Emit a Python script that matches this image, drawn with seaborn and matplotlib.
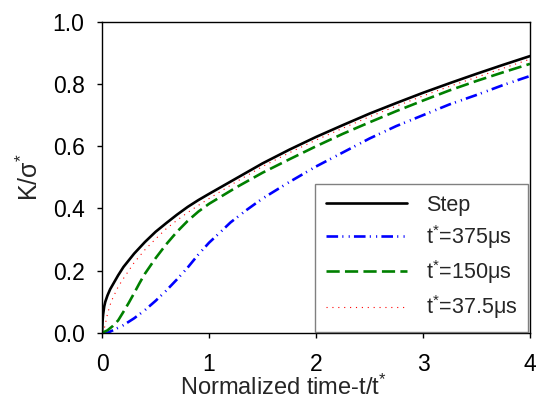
import matplotlib
matplotlib.use("Agg")
import matplotlib.pyplot as plt
import seaborn as sns
import pandas as pd

# ---- data ----
step_x = [0, 0.005, 0.01, 0.02, 0.03, 0.05, 0.075, 0.1, 0.15, 0.2, 0.3, 0.4, 0.5, 0.6, 0.7, 0.8, 0.9,
          1.0, 1.25, 1.5, 1.75, 2.0, 2.25, 2.5, 2.75, 3.0, 3.25, 3.5, 3.75, 4.0]
step_y = [0, 0.04, 0.06, 0.085, 0.10, 0.12, 0.14, 0.155, 0.185, 0.212, 0.255, 0.292, 0.325, 0.353, 0.38,
          0.405, 0.427, 0.447, 0.496, 0.545, 0.589, 0.63, 0.668, 0.705, 0.739, 0.772, 0.803, 0.833, 0.862, 0.89]

t375_x = [0, 0.05, 0.1, 0.2, 0.3, 0.4, 0.5, 0.6, 0.7, 0.8, 0.9, 1.0, 1.1, 1.2, 1.35, 1.5, 1.75,
          2.0, 2.25, 2.5, 2.75, 3.0, 3.25, 3.5, 3.75, 4.0]
t375_y = [0, 0.0, 0.008, 0.025, 0.047, 0.073, 0.103, 0.136, 0.172, 0.21, 0.252, 0.29, 0.322, 0.355,
          0.395, 0.432, 0.485, 0.535, 0.58, 0.625, 0.665, 0.70, 0.735, 0.765, 0.797, 0.826]

t150_x = [0, 0.05, 0.1, 0.15, 0.2, 0.25, 0.3, 0.35, 0.4, 0.5, 0.6, 0.7, 0.8, 0.9, 1.0, 1.25, 1.5,
          1.75, 2.0, 2.25, 2.5, 2.75, 3.0, 3.25, 3.5, 3.75, 4.0]
t150_y = [0, 0.008, 0.022, 0.04, 0.068, 0.097, 0.128, 0.16, 0.19, 0.24, 0.285, 0.325, 0.36, 0.39,
          0.415, 0.467, 0.515, 0.558, 0.60, 0.64, 0.677, 0.713, 0.747, 0.78, 0.81, 0.838, 0.865]

t37_x = [0, 0.01, 0.025, 0.05, 0.075, 0.1, 0.15, 0.2, 0.3, 0.4, 0.5, 0.6, 0.7, 0.8, 0.9, 1.0, 1.25,
         1.5, 1.75, 2.0, 2.25, 2.5, 2.75, 3.0, 3.25, 3.5, 3.75, 4.0]
t37_y = [0, 0.005, 0.02, 0.06, 0.09, 0.112, 0.148, 0.175, 0.226, 0.267, 0.302, 0.335, 0.362, 0.387,
         0.41, 0.432, 0.485, 0.535, 0.579, 0.62, 0.658, 0.695, 0.729, 0.762, 0.793, 0.822, 0.851, 0.88]

labels = ["Step", "t$^{*}$=375μs", "t$^{*}$=150μs", "t$^{*}$=37.5μs"]
x_ticks = [0, 1, 2, 3, 4]
y_ticks = [0.0, 0.2, 0.4, 0.6, 0.8, 1.0]

sns.set_style("white")
plt.rcParams["font.family"] = ["Liberation Sans", "DejaVu Sans"]
plt.rcParams["mathtext.fontset"] = "custom"
plt.rcParams["mathtext.rm"] = "Liberation Sans"
plt.rcParams["mathtext.it"] = "Liberation Sans:italic"
plt.rcParams["mathtext.bf"] = "Liberation Sans:bold"

fig = plt.figure(figsize=(5.43, 4.13), dpi=100)
ax = fig.add_axes([0.188, 0.194, 0.788, 0.753])

series = [
    (step_x, step_y, labels[0], "black", "-", 1.9),
    (t375_x, t375_y, labels[1], "#0000ff", (0, (4.4, 1.6, 0.4, 2.0, 0.4, 1.6)), 1.9),
    (t150_x, t150_y, labels[2], "#008000", (0, (5, 2)), 1.9),
    (t37_x, t37_y, labels[3], "#ff0000", (0, (1, 4.3)), 0.8),
]
for xs, ys, lab, col, ls, lw in series:
    df = pd.DataFrame({"x": xs, "y": ys})
    sns.lineplot(data=df, x="x", y="y", ax=ax, color=col, linestyle=ls,
                 linewidth=lw, label=lab, estimator=None, sort=False)

ax.set_xlim(0, 4)
ax.set_ylim(0, 1.0)
ax.set_xticks(x_ticks)
ax.set_xticklabels([str(v) for v in x_ticks])
ax.set_yticks(y_ticks)
ax.set_yticklabels([f"{v:.1f}" for v in y_ticks])
ax.tick_params(axis="both", which="major", direction="out", length=3.6, width=1,
               labelsize=16.5, bottom=True, left=True, top=False, right=False,
               colors="black")
ax.tick_params(axis="x", pad=11)
ax.tick_params(axis="y", pad=9)
for sp in ax.spines.values():
    sp.set_visible(True)
    sp.set_color("black")
    sp.set_linewidth(1.0)

ax.set_xlabel("Normalized time-t/t$^{*}$", fontsize=17)
ax.xaxis.label.set_va("baseline")
ax.xaxis.set_label_coords(0.423, -0.198)
ax.set_ylabel("K/σ$^{*}$", fontsize=18)
ax.yaxis.set_label_coords(-0.138, 0.5)

leg = ax.legend(loc="lower right", bbox_to_anchor=(0.995, 0.003), borderaxespad=0,
                fontsize=15.5, frameon=True, fancybox=False, edgecolor="#606060",
                handlelength=3.8, handletextpad=0.85, labelspacing=0.34,
                borderpad=0.5)
leg.get_frame().set_linewidth(1.0)

fig.savefig("out.png", dpi=100)
